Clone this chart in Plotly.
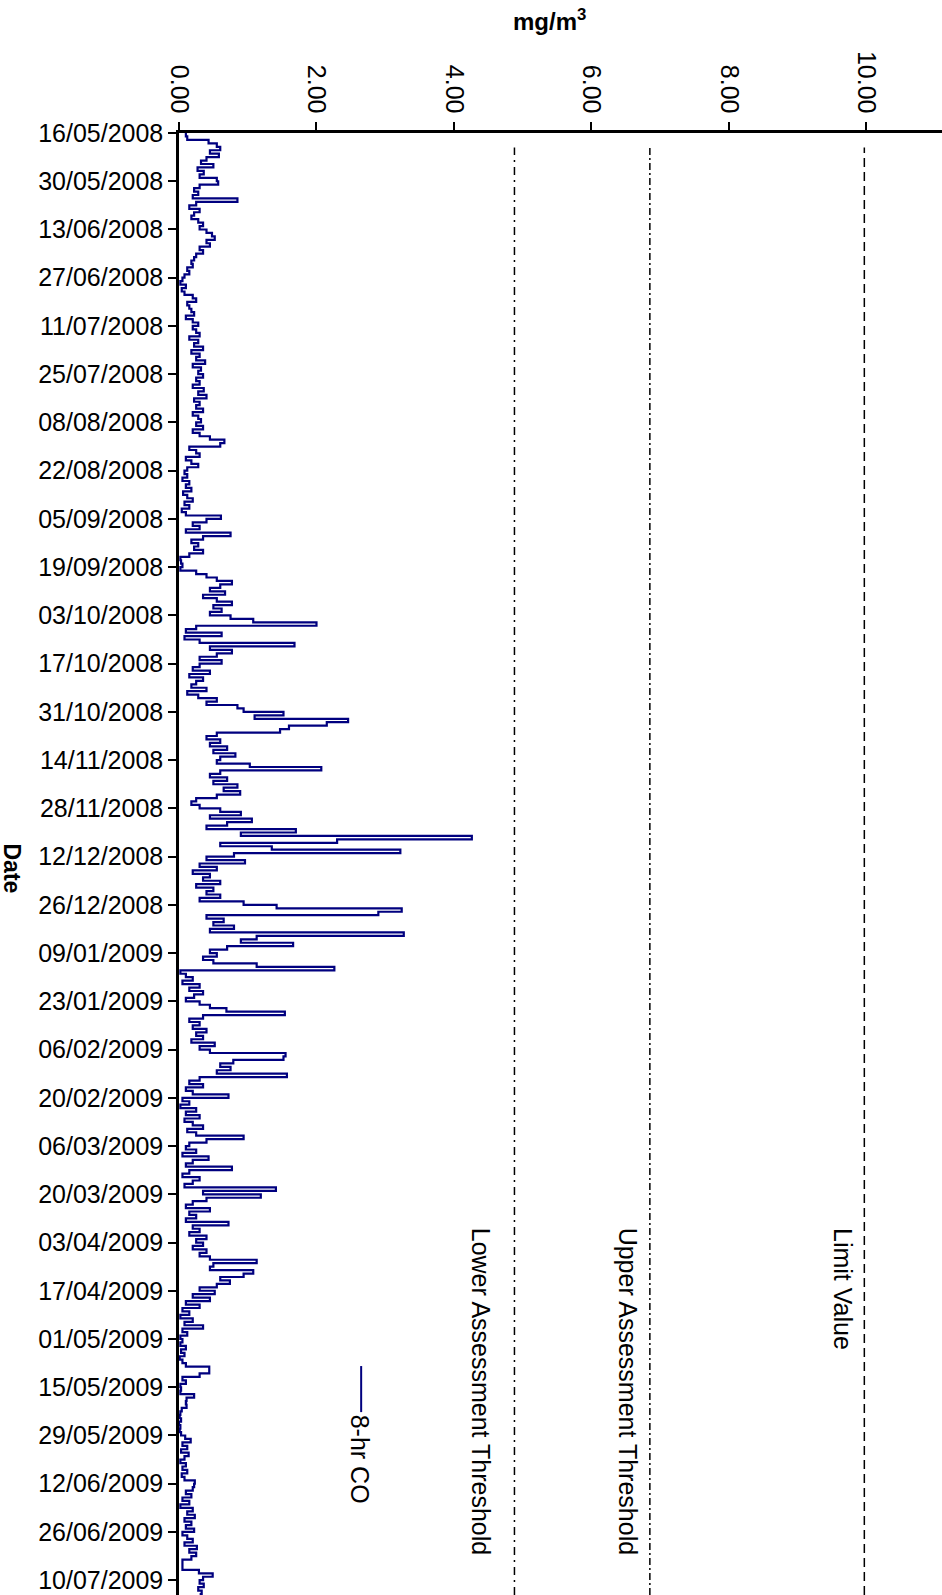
import pandas as pd
import plotly.graph_objects as go

# Daily 8-hour rolling CO concentration (mg/m3), starting 16/05/2008
start_date = "2008-05-16"
co_8hr = [
    # 16/05/2008
    0.10, 0.12, 0.43, 0.55, 0.60, 0.45, 0.58, 0.40, 0.32, 0.50, 0.27, 0.36, 0.30, 0.55,
    # 30/05/2008
    0.57, 0.30, 0.22, 0.28, 0.20, 0.85, 0.25, 0.15, 0.30, 0.22, 0.18, 0.28, 0.35, 0.30,
    # 13/06/2008
    0.40, 0.48, 0.52, 0.40, 0.45, 0.30, 0.35, 0.25, 0.22, 0.18, 0.20, 0.12, 0.15, 0.08,
    # 27/06/2008
    0.05, 0.02, 0.10, 0.04, 0.08, 0.20, 0.25, 0.12, 0.15, 0.18, 0.22, 0.10, 0.20, 0.28,
    # 11/07/2008
    0.20, 0.25, 0.30, 0.15, 0.28, 0.22, 0.35, 0.18, 0.30, 0.25, 0.38, 0.20, 0.32, 0.28,
    # 25/07/2008
    0.35, 0.25, 0.30, 0.20, 0.36, 0.28, 0.40, 0.22, 0.30, 0.25, 0.35, 0.20, 0.28, 0.32,
    # 08/08/2008
    0.25, 0.35, 0.20, 0.30, 0.45, 0.66, 0.60, 0.15, 0.25, 0.30, 0.10, 0.18, 0.28, 0.12,
    # 22/08/2008
    0.08, 0.12, 0.05, 0.15, 0.10, 0.18, 0.06, 0.12, 0.20, 0.08, 0.15, 0.04, 0.10, 0.61,
    # 05/09/2008
    0.40, 0.20, 0.30, 0.10, 0.75, 0.35, 0.18, 0.28, 0.22, 0.35, 0.15, 0.02, 0.03, 0.05,
    # 19/09/2008
    0.02, 0.25, 0.40, 0.55, 0.77, 0.60, 0.45, 0.67, 0.35, 0.55, 0.77, 0.50, 0.62, 0.45,
    # 03/10/2008
    0.75, 1.08, 2.00, 0.25, 0.10, 0.62, 0.08, 0.30, 1.68, 0.45, 0.77, 0.55, 0.30, 0.62,
    # 17/10/2008
    0.30, 0.20, 0.45, 0.15, 0.35, 0.25, 0.18, 0.40, 0.12, 0.28, 0.55, 0.40, 0.85, 0.94,
    # 31/10/2008
    1.52, 1.10, 2.46, 2.15, 1.60, 1.47, 0.55, 0.40, 0.60, 0.45, 0.70, 0.50, 0.82, 0.60,
    # 14/11/2008
    0.55, 1.03, 2.07, 0.60, 0.45, 0.70, 0.50, 0.85, 0.65, 0.89, 0.55, 0.25, 0.18, 0.30,
    # 28/11/2008
    0.60, 0.90, 0.45, 1.06, 0.70, 0.40, 1.70, 0.90, 4.26, 2.30, 0.60, 1.35, 3.22, 0.80,
    # 12/12/2008
    0.40, 0.96, 0.30, 0.55, 0.20, 0.45, 0.35, 0.60, 0.25, 0.50, 0.40, 0.60, 0.30, 0.94,
    # 26/12/2008
    1.42, 3.24, 2.90, 0.40, 0.65, 0.50, 0.80, 0.45, 3.27, 1.13, 0.90, 1.66, 0.70, 0.45,
    # 09/01/2009
    0.55, 0.35, 0.50, 1.13, 2.26, 0.02, 0.10, 0.20, 0.05, 0.30, 0.15, 0.35, 0.22, 0.10,
    # 23/01/2009
    0.30, 0.45, 0.69, 1.54, 0.35, 0.15, 0.30, 0.20, 0.40, 0.25, 0.35, 0.18, 0.52, 0.30,
    # 06/02/2009
    0.45, 1.55, 1.52, 0.79, 0.60, 0.75, 0.55, 1.57, 0.30, 0.15, 0.35, 0.10, 0.20, 0.72,
    # 20/02/2009
    0.05, 0.15, 0.02, 0.25, 0.10, 0.30, 0.08, 0.20, 0.35, 0.12, 0.25, 0.94, 0.40, 0.15,
    # 06/03/2009
    0.10, 0.25, 0.05, 0.43, 0.20, 0.10, 0.77, 0.15, 0.05, 0.30, 0.20, 0.08, 1.41, 0.35,
    # 20/03/2009
    1.19, 0.40, 0.20, 0.10, 0.45, 0.15, 0.25, 0.10, 0.72, 0.20, 0.30, 0.15, 0.40, 0.25,
    # 03/04/2009
    0.35, 0.20, 0.40, 0.30, 0.45, 1.13, 0.50, 0.45, 1.08, 0.94, 0.60, 0.74, 0.55, 0.30,
    # 17/04/2009
    0.52, 0.20, 0.45, 0.10, 0.30, 0.05, 0.15, 0.02, 0.20, 0.08, 0.35, 0.05, 0.12, 0.02,
    # 01/05/2009
    0.05, 0.02, 0.10, 0.03, 0.08, 0.01, 0.05, 0.10, 0.44, 0.44, 0.30, 0.05, 0.10, 0.02,
    # 15/05/2009
    0.03, 0.02, 0.22, 0.11, 0.10, 0.11, 0.04, 0.02, 0.01, 0.03, 0.00, 0.02, 0.01, 0.03,
    # 29/05/2009
    0.09, 0.17, 0.05, 0.12, 0.03, 0.14, 0.08, 0.02, 0.10, 0.05, 0.12, 0.04, 0.08, 0.23,
    # 12/06/2009
    0.22, 0.20, 0.10, 0.18, 0.05, 0.15, 0.02, 0.20, 0.12, 0.23, 0.08, 0.18, 0.10, 0.22,
    # 26/06/2009
    0.05, 0.12, 0.20, 0.08, 0.26, 0.15, 0.25, 0.18, 0.05, 0.05, 0.05, 0.29, 0.49, 0.35,
    # 10/07/2009
    0.30, 0.36, 0.28, 0.33, 0.30,
]
dates = pd.date_range(start_date, periods=len(co_8hr), freq="D")

# Reference levels (mg/m3)
threshold_names = ["Lower Assessment Threshold", "Upper Assessment Threshold", "Limit Value"]
threshold_values = [4.88, 6.85, 9.97]
threshold_dash = ["8px,5px,2px,5px", "7px,3px,2px,3px", "9px,5px"]
threshold_label_x = [4.39, 6.53, 9.66]

x_ticks = [0, 2, 4, 6, 8, 10]
series_name = "8-hr CO"

FONT = "Liberation Sans, Arial, Helvetica, sans-serif"
NAVY = "#00007f"
FS = 25

fig = go.Figure()
fig.add_trace(go.Scatter(
    x=co_8hr, y=dates, mode="lines", name=series_name,
    line=dict(color=NAVY, width=2.2, shape="vh"),
    showlegend=False,
))

for name, val, dash, lx in zip(threshold_names, threshold_values, threshold_dash, threshold_label_x):
    fig.add_shape(type="line", xref="x", yref="paper", x0=val, x1=val, y0=0, y1=0.99,
                  line=dict(color="black", width=1.5, dash=dash))
    fig.add_annotation(text=name, xref="x", yref="paper", x=lx, y=0.2524,
                       xanchor="center", yanchor="top", textangle=90, showarrow=False,
                       font=dict(family=FONT, size=FS, color="black"))

# Legend key drawn alongside the series
fig.add_shape(type="line", xref="x", yref="paper", x0=2.65, x1=2.65, y0=0.1566, y1=0.1251,
              line=dict(color=NAVY, width=2))
fig.add_annotation(text=series_name, xref="x", yref="paper", x=2.63, y=0.1245,
                   xanchor="center", yanchor="top", textangle=90, showarrow=False,
                   font=dict(family=FONT, size=FS, color="black"))

# Axis titles
fig.add_annotation(text="<b>mg/m<sup>3</sup></b>", xref="paper", yref="paper",
                   x=0.485, y=1.077, xanchor="center", yanchor="middle", showarrow=False,
                   font=dict(family=FONT, size=24, color="black"))
fig.add_annotation(text="<b>Date</b>", xref="paper", yref="paper",
                   x=-0.219, y=0.497, xanchor="center", yanchor="middle", textangle=90,
                   showarrow=False, font=dict(family=FONT, size=23, color="black"))

fig.update_layout(
    width=942, height=1595,
    margin=dict(l=179, r=0, t=133, b=0),
    paper_bgcolor="white", plot_bgcolor="white",
    font=dict(family=FONT, size=FS, color="black"),
    xaxis=dict(
        side="top", range=[0, 11.1], tickvals=x_ticks, tickformat=".2f",
        tickangle=90, ticks="outside", ticklen=8, tickwidth=2, tickcolor="black",
        showline=True, linewidth=2.5, linecolor="black",
        showgrid=False, zeroline=False, tickfont=dict(size=FS),
    ),
    yaxis=dict(
        type="date", range=["2009-07-14 07:00", start_date],
        tick0=start_date, dtick=14 * 86400000, tickformat="%d/%m/%Y",
        ticks="outside", ticklen=8, tickwidth=2, tickcolor="black",
        showline=True, linewidth=2.5, linecolor="black",
        showgrid=False, zeroline=False, tickfont=dict(size=FS),
    ),
)

fig.write_html("out.html")
